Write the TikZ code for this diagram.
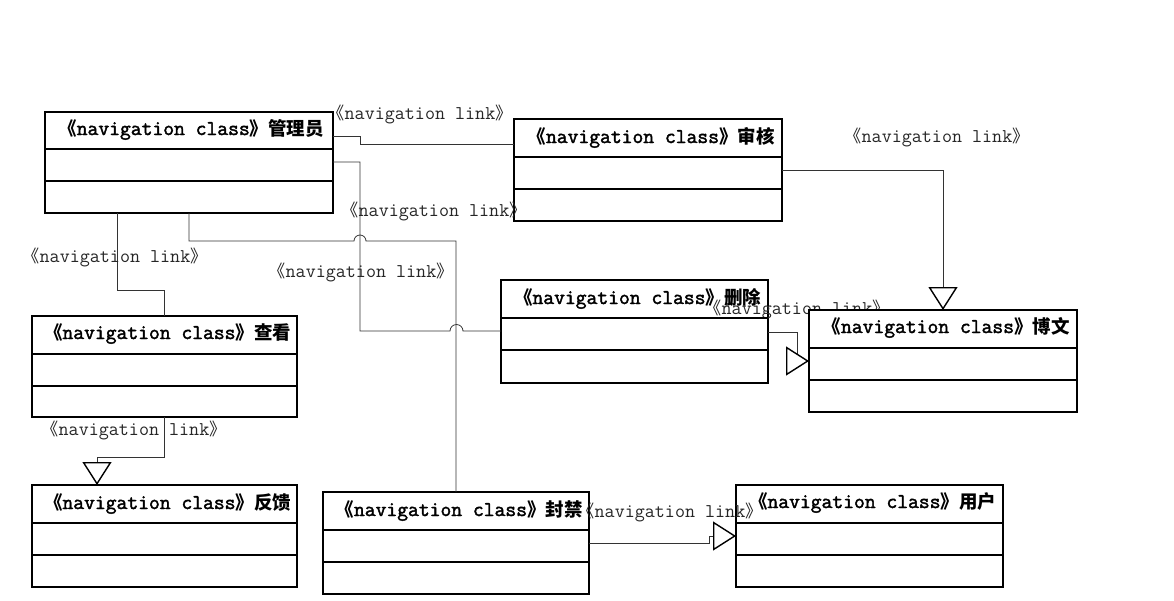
\documentclass[tikz,border=0pt]{standalone}
\usepackage{fontspec}
\setmainfont{Latin Modern Mono}
\newfontfamily\titlefont{Latin Modern Mono}[FakeBold=2]
\newfontfamily\cjk{Noto Sans CJK SC}[Scale=0.88]
\usetikzlibrary{arrows.meta}
\newcommand{\navtag}[1]{{\cjk 《}#1{\cjk 》}}

\begin{document}
\begin{tikzpicture}[
  x=1pt, y=-1pt,
  classbox/.style={rectangle,draw,fill=white,line width=1.4pt,anchor=north west,outer sep=0pt,inner sep=0pt,minimum width=267pt,minimum height=102pt},
  classtitle/.style={font=\fontsize{21}{24}\titlefont\bfseries,text height=14pt,text depth=4pt,inner sep=0pt},
  linklabel/.style={font=\fontsize{19.5}{22}\selectfont,text=black!85,text height=12pt,text depth=3pt,inner sep=0pt},
  navlink/.style={draw=black!80,line width=0.8pt},
  navhead/.style={-{Triangle[length=23pt,width=29pt,color=black,fill=white,line width=1.4pt]}}
]
\useasboundingbox (0,0) rectangle (1174,600) ;

\node [classbox,minimum width=288pt,minimum height=101pt] (admin) at (45,112) { } ;
\node [classbox,minimum width=268pt] (audit) at (514,119) { } ;
\node [classbox,minimum height=103pt] (delete) at (501,280) { } ;
\node [classbox,minimum width=265pt,minimum height=101pt] (view) at (32,316) { } ;
\node [classbox,minimum width=265pt] (feedback) at (32,485) { } ;
\node [classbox,minimum width=266pt] (ban) at (323,492) { } ;
\node [classbox] (user) at (736,485) { } ;
\node [linklabel] (delete blog label) at (797,310) {\navtag{navigation link}} ;
\node [classbox,minimum width=268pt] (blog) at (809,310) { } ;

\node [classtitle] (admin title) at ([xshift=2pt,yshift=-18pt]admin.north) {\navtag{navigation class}{\cjk\bfseries 管理员}} ;
\node [classtitle] (audit title) at ([xshift=3pt,yshift=-19pt]audit.north) {\navtag{navigation class}{\cjk\bfseries 审核}} ;
\node [classtitle] (blog title) at ([xshift=3pt,yshift=-18pt]blog.north) {\navtag{navigation class}{\cjk\bfseries 博文}} ;
\node [classtitle] (delete title) at ([xshift=3pt,yshift=-19pt]delete.north) {\navtag{navigation class}{\cjk\bfseries 删除}} ;
\node [classtitle] (view title) at ([xshift=3pt,yshift=-18pt]view.north) {\navtag{navigation class}{\cjk\bfseries 查看}} ;
\node [classtitle] (feedback title) at ([xshift=3pt,yshift=-19pt]feedback.north) {\navtag{navigation class}{\cjk\bfseries 反馈}} ;
\node [classtitle] (ban title) at ([xshift=3pt,yshift=-19pt]ban.north) {\navtag{navigation class}{\cjk\bfseries 封禁}} ;
\node [classtitle] (user title) at ([xshift=3pt,yshift=-18pt]user.north) {\navtag{navigation class}{\cjk\bfseries 用户}} ;

\draw [line width=1.4pt] ([yshift=-37pt]admin.north west) -- ([yshift=-37pt]admin.north east)
  ([yshift=-69pt]admin.north west) -- ([yshift=-69pt]admin.north east) ;
\foreach \c in {audit,blog,delete,view,feedback,ban,user}
  \draw [line width=1.4pt] ([yshift=-38pt]\c.north west) -- ([yshift=-38pt]\c.north east)
    ([yshift=-70pt]\c.north west) -- ([yshift=-70pt]\c.north east) ;

\draw [navlink] ([yshift=-24pt]admin.north east) -- ++(27,0) |- ([yshift=-25pt]audit.north west) ;
\draw [navlink] ([yshift=-50pt]admin.north east) -- ++(27,0) |- ([xshift=-51pt,yshift=-51pt]delete.north west)
  arc [start angle=180,end angle=0,radius=6.5pt] -- ([yshift=-51pt]delete.north west) ;
\draw [navlink] (admin.south) -- ++(0,28) -- ++(165,0) arc [start angle=180,end angle=0,radius=6pt] -| (ban.north) ;
\draw [navlink] ([xshift=72pt]admin.south west) -- ++(0,77) -| (view.north) ;
\draw [navlink,navhead] (view.south) -- ++(0,40) -| ([xshift=65pt]feedback.north west) ;
\draw [navlink,navhead] ([yshift=-51pt]audit.north east) -| (blog.north) ;
\draw [navlink,navhead] ([yshift=-52pt]delete.north east) -- ++(29,0) |- ([yshift=-51pt]blog.north west) ;
\draw [navlink,navhead] ([yshift=-51pt]ban.north east) -- ++(120,0) |- ([yshift=-51pt]user.north west) ;

\node [linklabel] (admin audit label) at (420,115) {\navtag{navigation link}} ;
\node [linklabel] (admin delete label) at (434,212) {\navtag{navigation link}} ;
\node [linklabel] (admin ban label) at (361,273) {\navtag{navigation link}} ;
\node [linklabel] (admin view label) at (115,258) {\navtag{navigation link}} ;
\node [linklabel] (view feedback label) at (134,431) {\navtag{navigation link}} ;
\node [linklabel] (audit blog label) at (937,138) {\navtag{navigation link}} ;
\node [linklabel] (ban user label) at (670,513) {\navtag{navigation link}} ;

\end{tikzpicture}
\end{document}
